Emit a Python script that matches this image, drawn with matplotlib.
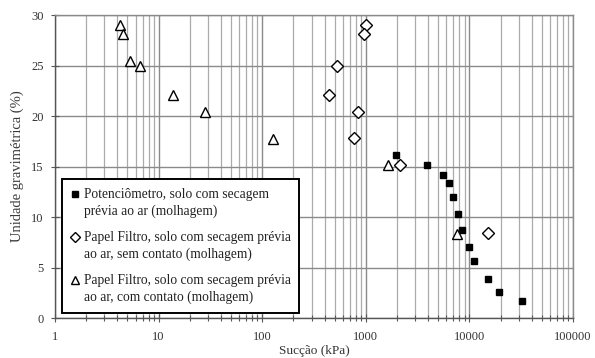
import numpy as np
import matplotlib
matplotlib.use("Agg")
import matplotlib.pyplot as plt
from matplotlib.legend_handler import HandlerLine2D
from matplotlib.ticker import LogLocator, FixedLocator, FixedFormatter, NullFormatter

plt.rcParams['font.family'] = ['Liberation Serif', 'DejaVu Serif']

# Potenciômetro (quadrados cheios)
pot_x = [1970, 3870, 5520, 6400, 6900, 7760, 8430, 9850, 11000, 15200, 19500, 32000]
pot_y = [16.1, 15.2, 14.15, 13.4, 12.0, 10.25, 8.75, 7.05, 5.6, 3.9, 2.6, 1.7]

# Papel filtro sem contato (losangos)
pf_sem_x = [1000, 970, 525, 445, 850, 765, 2140, 15000]
pf_sem_y = [29.0, 28.1, 25.0, 22.05, 20.35, 17.8, 15.2, 8.4]

# Papel filtro com contato (triângulos)
pf_com_x = [4.2, 4.55, 5.25, 6.6, 13.8, 28.3, 127, 1650, 7650]
pf_com_y = [29.0, 28.1, 25.45, 24.95, 22.05, 20.35, 17.75, 15.2, 8.3]

labels = [
    "Potenciômetro, solo com secagem\nprévia ao ar (molhagem)",
    "Papel Filtro, solo com secagem prévia\nao ar, sem contato (molhagem)",
    "Papel Filtro, solo com secagem prévia\nao ar, com contato (molhagem)",
]
xticks = [1, 10, 100, 1000, 10000, 100000]
xtick_labels = ["1", "10", "100", "1000", "10000", "100000"]
yticks = [0, 5, 10, 15, 20, 25, 30]


class FirstLineHandler(HandlerLine2D):
    # marcador alinhado com a primeira linha do texto
    def create_artists(self, legend, orig_handle, xdescent, ydescent, width, height,
                       fontsize, trans):
        arts = super().create_artists(legend, orig_handle, xdescent, ydescent, width,
                                      height, fontsize, trans)
        for a in arts:
            a.set_ydata([v + 0.68 * fontsize for v in a.get_ydata()])
        return arts


fig = plt.figure(figsize=(5.95, 3.58), dpi=100)
ax = fig.add_axes([0.0924, 0.1117, 0.8706, 0.8463])

ax.plot(pot_x, pot_y, 's', color='black', markersize=5, label=labels[0], zorder=3)
ax.plot(pf_sem_x, pf_sem_y, 'D', mfc='white', mec='black', mew=1.0, markersize=6.5,
        label=labels[1], zorder=3)
ax.plot(pf_com_x, pf_com_y, '^', mfc='white', mec='black', mew=1.0, markersize=7,
        label=labels[2], zorder=3)

ax.set_xscale('log')
ax.set_xlim(1, 100000)
ax.set_ylim(0, 30)
ax.xaxis.set_major_locator(FixedLocator(xticks))
ax.xaxis.set_major_formatter(FixedFormatter(xtick_labels))
ax.xaxis.set_minor_locator(LogLocator(base=10, subs=np.arange(2, 10)))
ax.xaxis.set_minor_formatter(NullFormatter())
ax.set_yticks(yticks)

ax.grid(True, which='major', color='#8a8a8a', linewidth=1.0)
ax.grid(True, which='minor', axis='x', color='#ababab', linewidth=0.9)
ax.set_axisbelow(True)

for side in ['top', 'right']:
    ax.spines[side].set_color('#8a8a8a')
    ax.spines[side].set_linewidth(1.0)
for side in ['left', 'bottom']:
    ax.spines[side].set_color('#555555')
    ax.spines[side].set_linewidth(1.0)

ax.tick_params(axis='both', which='major', direction='inout', length=6, width=0.8,
               color='#555555', labelsize=9, labelcolor='#333333')
ax.tick_params(axis='y', which='major', pad=5)
ax.tick_params(axis='x', which='major', pad=6)
ax.tick_params(axis='x', which='minor', direction='inout', length=4, width=0.8,
               color='#555555')
ax.tick_params(axis='y', which='minor', left=False)

ax.set_xlabel("Sucção (kPa)", fontsize=9.5, color='#333333', labelpad=2)
ax.set_ylabel("Unidade gravimétrica (%)", fontsize=10.5, color='#3a3a3a', labelpad=5)

leg = ax.legend(loc='lower left', bbox_to_anchor=(0.0135, 0.0165), borderaxespad=0,
                fontsize=9.75, frameon=True, fancybox=False, edgecolor='black',
                framealpha=1, handlelength=0.6, handletextpad=0.35, labelspacing=0.95,
                borderpad=0.65, markerscale=0.75,
                handler_map={matplotlib.lines.Line2D: FirstLineHandler()})
leg.get_frame().set_linewidth(1.4)
leg.set_zorder(5)
for t in leg.get_texts():
    t.set_color('#222222')
    t.set_linespacing(1.35)

fig.savefig("out.png", dpi=100)
